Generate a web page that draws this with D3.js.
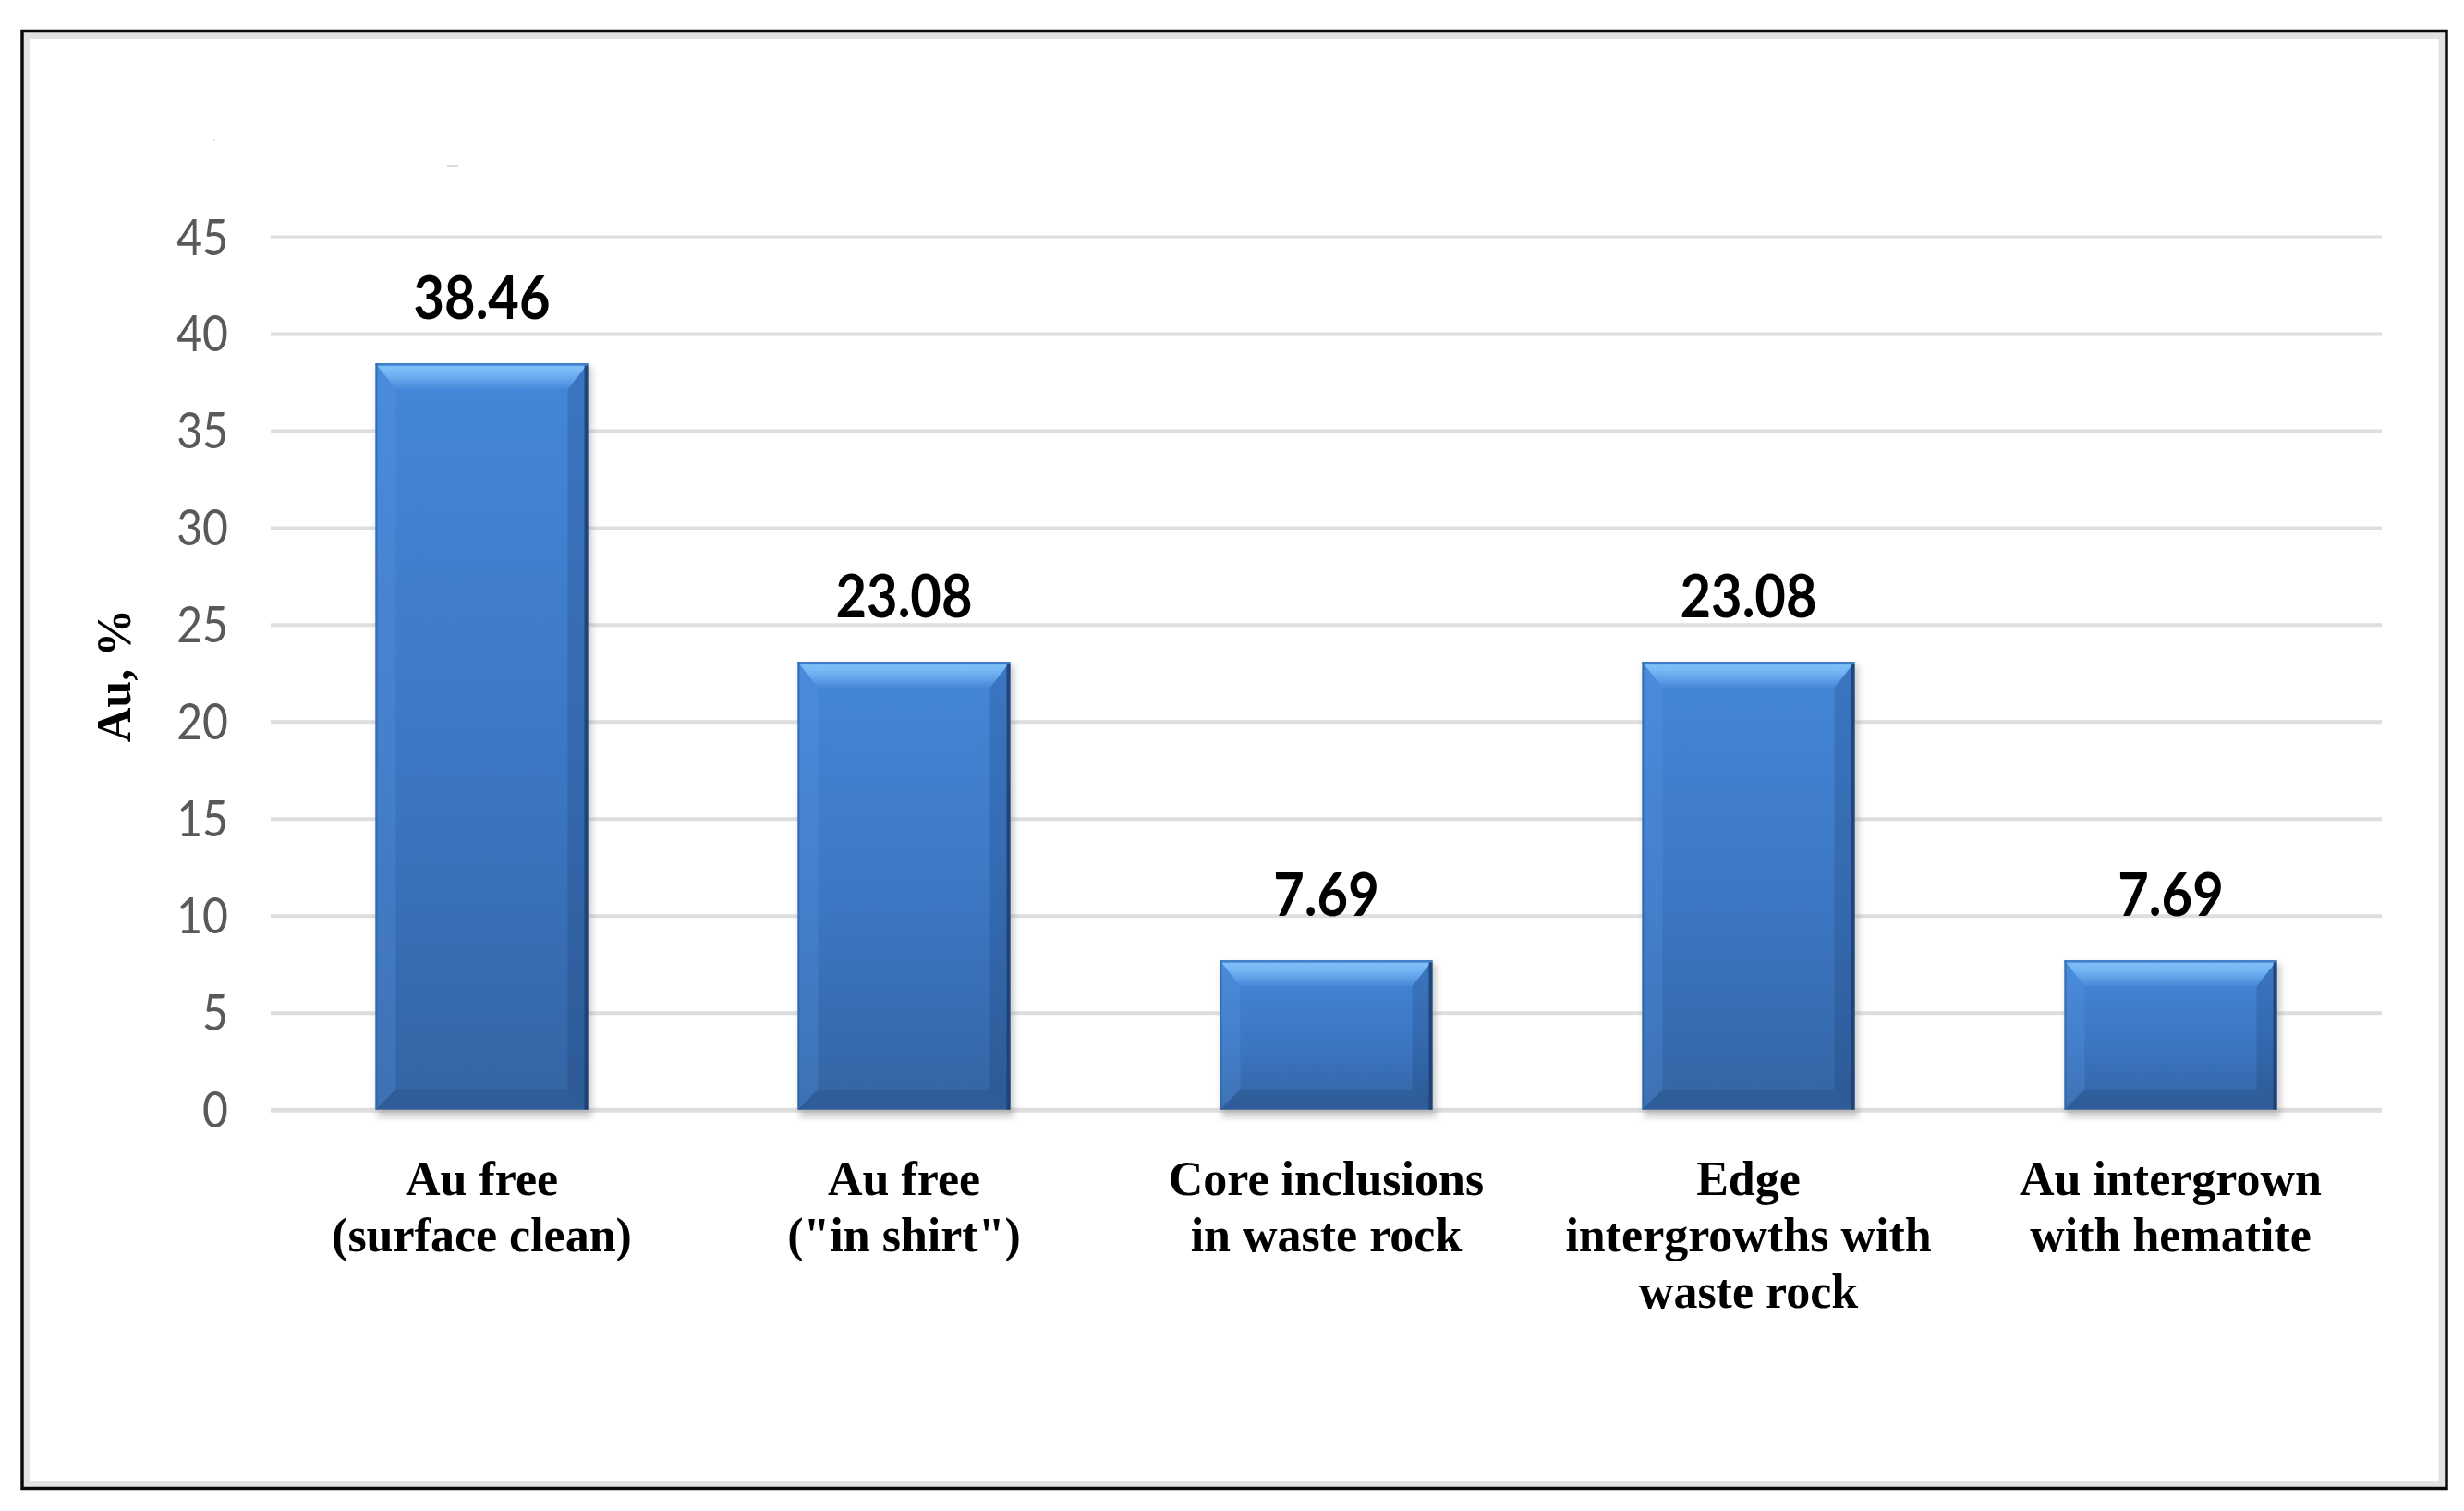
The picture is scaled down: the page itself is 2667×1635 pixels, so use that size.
<!DOCTYPE html>
<html>
<head>
<meta charset="utf-8">
<script src="https://cdn.jsdelivr.net/npm/d3@7"></script>
<style>
  html, body { margin: 0; padding: 0; background: #ffffff; }
  svg { display: block; }
</style>
</head>
<body>
<svg id="chart" width="2667" height="1635"></svg>
<script>
// ---------------- DATA ----------------
const categories = ["c1", "c2", "c3", "c4", "c5"];
const categoryLabels = [
  ["Au free", "(surface clean)"],
  ["Au free", "(\"in shirt\")"],
  ["Core inclusions", "in waste rock"],
  ["Edge", "intergrowths with", "waste rock"],
  ["Au intergrown", "with hematite"]
];
const values = [38.46, 23.08, 7.69, 23.08, 7.69];
const valueLabels = ["38.46", "23.08", "7.69", "23.08", "7.69"];
const yTicks = [0, 5, 10, 15, 20, 25, 30, 35, 40, 45];
const yTitle = "Au, %";

// ---------------- LAYOUT ----------------
const W = 2667, H = 1635;
const plot = { left: 293, right: 2578, top: 256, bottom: 1200.7 };
const svg = d3.select("#chart");
const defs = svg.append("defs");

// white background
svg.append("rect").attr("width", W).attr("height", H).attr("fill", "#ffffff");

// frame (inner soft gray + black outline)
svg.append("rect")
  .attr("x", 29).attr("y", 38.5).attr("width", 2614).attr("height", 1567)
  .attr("fill", "none").attr("stroke", "#e2e2e2").attr("stroke-width", 7);
svg.append("rect")
  .attr("x", 24).attr("y", 33.5).attr("width", 2624).attr("height", 1577)
  .attr("fill", "none").attr("stroke", "#0a0a0a").attr("stroke-width", 3.5);

// tiny leftover marks near the top
svg.append("rect").attr("x", 484).attr("y", 178).attr("width", 12).attr("height", 3).attr("fill", "#dcdcdc");
svg.append("rect").attr("x", 231).attr("y", 150).attr("width", 2).attr("height", 3).attr("fill", "#e4e4e4");

// scales
const x = d3.scaleBand()
  .domain(categories)
  .range([plot.left, plot.right])
  .paddingInner(0.4967)
  .paddingOuter(0.4967 / 2);
const y = d3.scaleLinear().domain([0, 45]).range([plot.bottom, plot.top]);

// gridlines + tick labels via axis
const axisG = svg.append("g")
  .attr("transform", `translate(${plot.left},0)`)
  .call(d3.axisLeft(y)
    .tickValues(yTicks)
    .tickSize(-(plot.right - plot.left))
    .tickPadding(46)
    .tickFormat(d3.format("d")));
axisG.select(".domain").remove();
axisG.selectAll(".tick line")
  .attr("stroke", "#dedede")
  .attr("stroke-width", d => d === 0 ? 5 : 4);
axisG.selectAll(".tick text")
  .attr("x", 0)
  .attr("dy", null)
  .attr("transform", "translate(-46,19) scale(0.89,1)")
  .attr("fill", "#595959")
  .style("font-family", "Lato, 'Open Sans', sans-serif")
  .style("font-size", "54px")
  .style("font-weight", "400")
  .attr("text-anchor", "end");

// gradients
const mainGrad = defs.append("linearGradient").attr("id", "barMain")
  .attr("x1", 0).attr("y1", 0).attr("x2", 0).attr("y2", 1);
mainGrad.append("stop").attr("offset", "0%").attr("stop-color", "#4487d8");
mainGrad.append("stop").attr("offset", "55%").attr("stop-color", "#3c76c2");
mainGrad.append("stop").attr("offset", "100%").attr("stop-color", "#3464a3");

const topGrad = defs.append("linearGradient").attr("id", "barTop")
  .attr("x1", 0).attr("y1", 0).attr("x2", 0).attr("y2", 1);
topGrad.append("stop").attr("offset", "0%").attr("stop-color", "#4c8ad6");
topGrad.append("stop").attr("offset", "14%").attr("stop-color", "#7fc0f8");
topGrad.append("stop").attr("offset", "45%").attr("stop-color", "#6fb0f2");
topGrad.append("stop").attr("offset", "100%").attr("stop-color", "#4788d8");

const shadowF = defs.append("filter").attr("id", "shadowBlur")
  .attr("x", "-20%").attr("y", "-20%").attr("width", "140%").attr("height", "140%");
shadowF.append("feGaussianBlur").attr("stdDeviation", 3.5);

// bars
const bw = x.bandwidth();
const bev = 22;
const bars = svg.append("g").selectAll("g.bar")
  .data(values.map((v, i) => ({ v, cat: categories[i], i })))
  .join("g").attr("class", "bar");

bars.each(function(d) {
  const g = d3.select(this);
  const x0 = x(d.cat), x1 = x0 + bw;
  const yT = y(d.v), yB = y(0);
  const h = yB - yT;
  // drop shadow
  g.append("rect")
    .attr("x", x0 + 2).attr("y", yT + 4).attr("width", bw + 2).attr("height", h + 4)
    .attr("fill", "#8c8c8c").attr("opacity", 0.45).attr("filter", "url(#shadowBlur)");
  // main body
  g.append("rect")
    .attr("x", x0).attr("y", yT).attr("width", bw).attr("height", h)
    .attr("fill", "url(#barMain)");
  // left bevel
  g.append("polygon")
    .attr("points", [[x0, yT], [x0 + bev, yT + bev], [x0 + bev, yB - bev], [x0, yB]].join(" "))
    .attr("fill", "#5a9be6").attr("opacity", 0.25);
  // right bevel
  g.append("polygon")
    .attr("points", [[x1, yT], [x1 - bev, yT + bev], [x1 - bev, yB - bev], [x1, yB]].join(" "))
    .attr("fill", "#102c5a").attr("opacity", 0.18);
  // bottom bevel
  g.append("polygon")
    .attr("points", [[x0, yB], [x1, yB], [x1 - bev, yB - bev], [x0 + bev, yB - bev]].join(" "))
    .attr("fill", "#102c5a").attr("opacity", 0.15);
  // top bevel
  g.append("polygon")
    .attr("points", [[x0, yT], [x1, yT], [x1 - bev, yT + bev + 6], [x0 + bev, yT + bev + 6]].join(" "))
    .attr("fill", "url(#barTop)");
  // right dark edge
  g.append("rect")
    .attr("x", x1 - 4).attr("y", yT + 2).attr("width", 4).attr("height", h - 2)
    .attr("fill", "#1c3e70").attr("opacity", 0.85);
  // top thin edge
  g.append("rect")
    .attr("x", x0).attr("y", yT).attr("width", bw).attr("height", 2)
    .attr("fill", "#3f7cc6");
  // left thin edge
  g.append("rect")
    .attr("x", x0).attr("y", yT).attr("width", 2).attr("height", h)
    .attr("fill", "#2f62a6").attr("opacity", 0.7);
});

// value labels
svg.append("g").selectAll("text.val")
  .data(values.map((v, i) => ({ v, cat: categories[i], label: valueLabels[i] })))
  .join("text").attr("class", "val")
  .attr("transform", d => `translate(${x(d.cat) + bw / 2},${y(d.v) - 48}) scale(0.89,1)`)
  .attr("text-anchor", "middle")
  .attr("fill", "#000")
  .style("font-family", "Lato, 'Open Sans', sans-serif")
  .style("font-weight", "700")
  .style("font-size", "65px")
  .text(d => d.label);

// category labels
const catG = svg.append("g").selectAll("text.cat")
  .data(categories.map((c, i) => ({ c, lines: categoryLabels[i] })))
  .join("text").attr("class", "cat")
  .attr("text-anchor", "middle")
  .attr("fill", "#000")
  .style("font-family", "'Liberation Serif', 'Times New Roman', serif")
  .style("font-weight", "700")
  .style("font-size", "52px");
catG.each(function(d) {
  const t = d3.select(this);
  const cx = x(d.c) + bw / 2;
  d.lines.forEach((ln, j) => {
    t.append("tspan").attr("x", cx).attr("y", 1293 + j * 61).text(ln);
  });
});

// y-axis title
svg.append("text")
  .attr("transform", "translate(141,731) rotate(-90)")
  .attr("text-anchor", "middle")
  .attr("fill", "#000")
  .style("font-family", "'Liberation Serif', 'Times New Roman', serif")
  .style("font-weight", "700")
  .style("font-size", "52px")
  .text(yTitle);
</script>
</body>
</html>
